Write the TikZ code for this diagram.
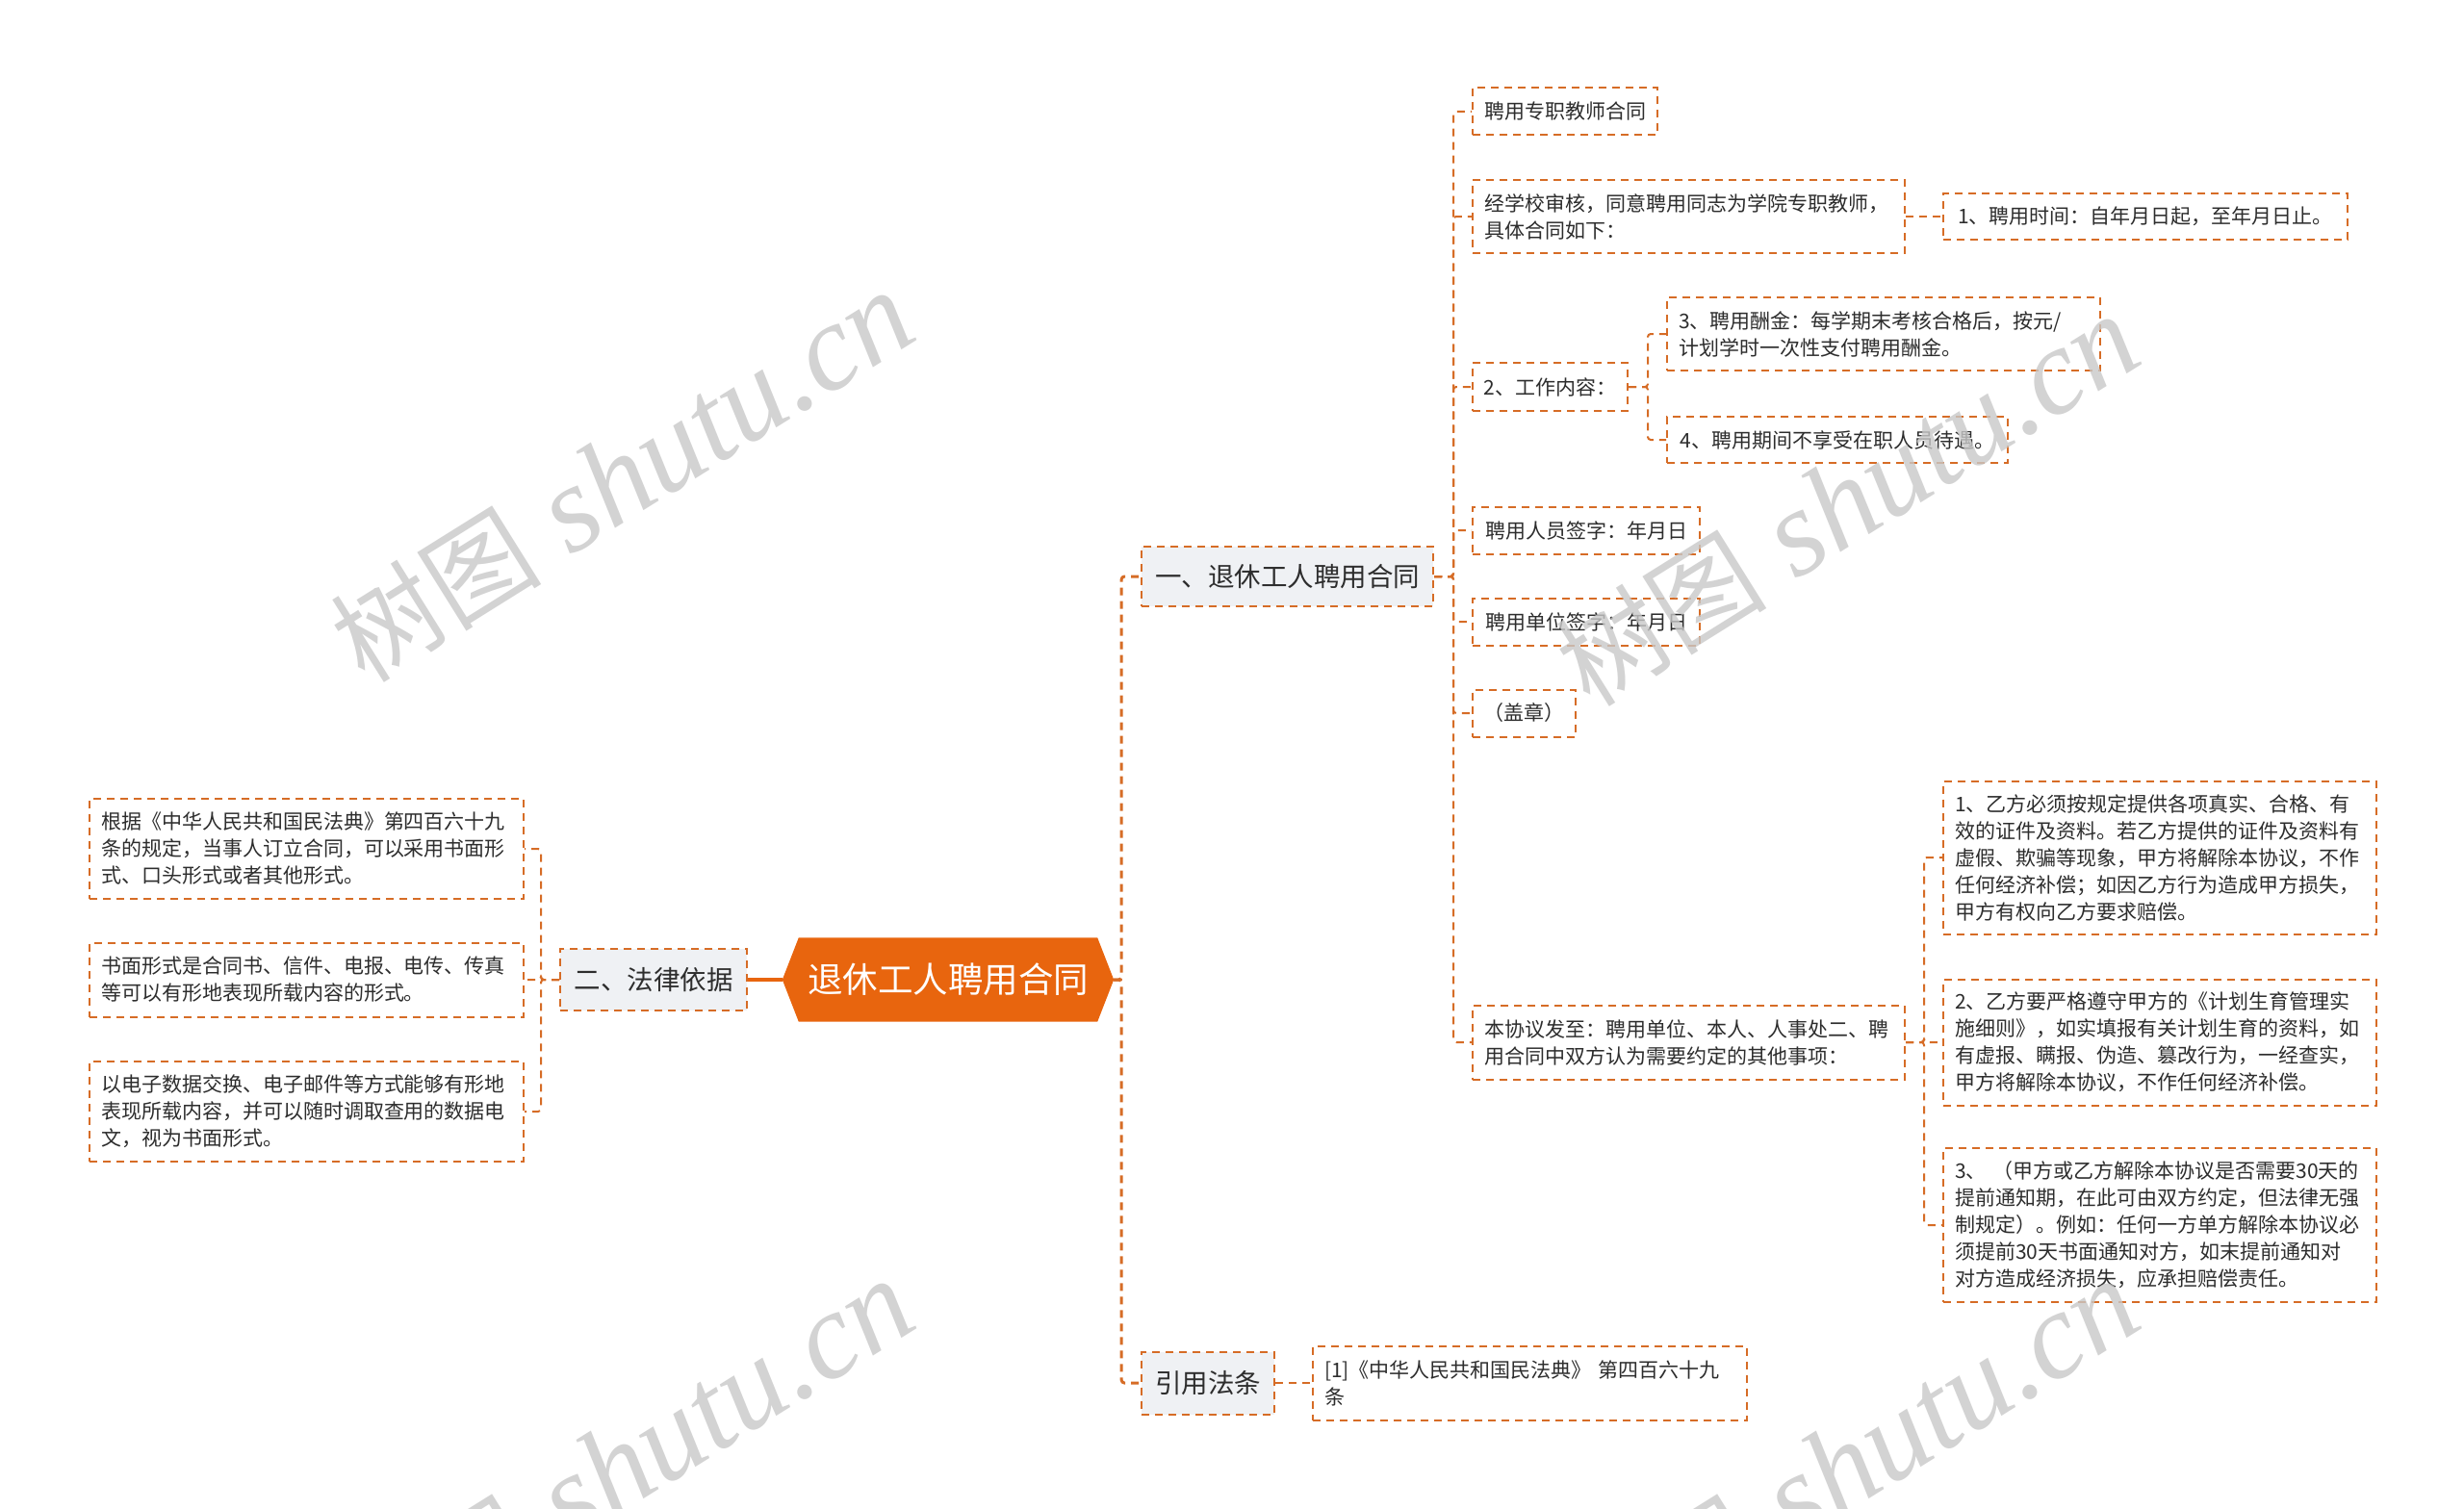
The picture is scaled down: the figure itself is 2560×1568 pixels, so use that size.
\documentclass[tikz,border=0pt]{standalone}
\usepackage{fontspec}
\setmainfont{Noto Sans CJK SC}
\newfontfamily\wmlatin{Liberation Serif}
\newfontfamily\wmcjk{Noto Sans CJK SC}
\usetikzlibrary{backgrounds}
\definecolor{bord}{RGB}{214,108,38}
\definecolor{mainor}{RGB}{232,101,14}
\definecolor{grayfill}{RGB}{239,241,244}
\definecolor{wmcol}{RGB}{200,200,200}
\definecolor{txt}{RGB}{45,45,45}
\tikzset{
  box/.style={draw=bord, line width=2pt, dash pattern=on 8pt off 6pt, anchor=west,
    align=left, inner xsep=12pt, inner ysep=2pt, text=txt,
    font=\fontsize{21pt}{28pt}\selectfont},
  sbox/.style={box, align=center, inner xsep=0pt},
  branch/.style={box, fill=grayfill, align=center, inner xsep=0pt,
    font=\fontsize{27.5pt}{32pt}\selectfont},
  conn/.style={draw=bord, line width=2pt, dash pattern=on 8pt off 6pt, rounded corners=3pt},
  mconn/.style={conn, line width=3pt},
  solidc/.style={draw=mainor, line width=4pt},
  wmark/.style={anchor=base west, rotate=32, inner sep=0pt, text=wmcol, opacity=0.8},
}
\newcommand{\wmtext}{{\wmcjk\fontsize{110pt}{110pt}\selectfont 树图}{\wmlatin\itshape\fontsize{128pt}{128pt}\selectfont\ shutu.cn}}
\begin{document}
\begin{tikzpicture}[x=1pt,y=-1pt]
\useasboundingbox (0,0) rectangle (2560,1568);
\begin{scope}[on background layer]
  \fill[white] (0,0) rectangle (2560,1568);
\end{scope}

% central node
\node[font=\fontsize{36.5pt}{40pt}\selectfont, text=white, minimum width=344pt,
      minimum height=87pt, inner sep=0pt] (c) at (985,1018) {退休工人聘用合同};
\begin{scope}[on background layer]
  \fill[mainor] (c.west) -- ([xshift=17pt]c.north west) -- ([xshift=-17pt]c.north east)
    -- (c.east) -- ([xshift=-17pt]c.south east) -- ([xshift=17pt]c.south west) -- cycle;
\end{scope}

% branches
\node[branch, minimum width=303pt, minimum height=62pt] (b1) at (1185,599) {一、退休工人聘用合同};
\node[branch, minimum width=194pt, minimum height=64pt] (b2) at (581,1018) {二、法律依据};
\node[branch, minimum width=138pt, minimum height=65pt] (b3) at (1185,1437) {引用法条};

% left leaves
\node[box, text width=427pt, minimum height=104pt] (l1) at (92,882)
  {根据《中华人民共和国民法典》第四百六十九\\条的规定，当事人订立合同，可以采用书面形\\式、口头形式或者其他形式。};
\node[box, text width=427pt, minimum height=77pt] (l2) at (92,1018)
  {书面形式是合同书、信件、电报、电传、传真\\等可以有形地表现所载内容的形式。};
\node[box, text width=427pt, minimum height=104pt] (l3) at (92,1155)
  {以电子数据交换、电子邮件等方式能够有形地\\表现所载内容，并可以随时调取查用的数据电\\文，视为书面形式。};

% branch 1 children
\node[sbox, minimum width=192pt, minimum height=49pt] (c1) at (1529,116) {聘用专职教师合同};
\node[box, text width=425pt, minimum height=76pt] (c2) at (1529,225)
  {经学校审核，同意聘用同志为学院专职教师，\\具体合同如下：};
\node[sbox, minimum width=420pt, minimum height=48pt] (c2a) at (2018,225) {1、聘用时间：自年月日起，至年月日止。};
\node[sbox, minimum width=161pt, minimum height=50pt] (c3) at (1529,402) {2、工作内容：};
\node[box, text width=426pt, minimum height=76pt] (c3a) at (1731,347)
  {3、聘用酬金：每学期末考核合格后，按元/\\计划学时一次性支付聘用酬金。};
\node[sbox, minimum width=354pt, minimum height=48pt] (c3b) at (1731,457) {4、聘用期间不享受在职人员待遇。};
\node[sbox, minimum width=236pt, minimum height=49pt] (c4) at (1529,551) {聘用人员签字：年月日};
\node[sbox, minimum width=236pt, minimum height=49pt] (c5) at (1529,646) {聘用单位签字：年月日};
\node[sbox, minimum width=107pt, minimum height=49pt] (c6) at (1529,741) {（盖章）};
\node[box, text width=425pt, minimum height=77pt] (c7) at (1529,1083)
  {本协议发至：聘用单位、本人、人事处二、聘\\用合同中双方认为需要约定的其他事项：};
\node[box, text width=426pt, minimum height=159pt] (c7a) at (2018,891)
  {1、乙方必须按规定提供各项真实、合格、有\\效的证件及资料。若乙方提供的证件及资料有\\虚假、欺骗等现象，甲方将解除本协议，不作\\任何经济补偿；如因乙方行为造成甲方损失，\\甲方有权向乙方要求赔偿。};
\node[box, text width=426pt, minimum height=131pt] (c7b) at (2018,1083)
  {2、乙方要严格遵守甲方的《计划生育管理实\\施细则》，如实填报有关计划生育的资料，如\\有虚报、瞒报、伪造、篡改行为，一经查实，\\甲方将解除本协议，不作任何经济补偿。};
\node[box, text width=426pt, minimum height=160pt] (c7c) at (2018,1273)
  {3、 （甲方或乙方解除本协议是否需要30天的\\提前通知期，在此可由双方约定，但法律无强\\制规定）。例如：任何一方单方解除本协议必\\须提前30天书面通知对方，如末提前通知对\\对方造成经济损失，应承担赔偿责任。};

% branch 3 child
\node[box, text width=427pt, minimum height=77pt] (r1) at (1363,1437)
  {[1]《中华人民共和国民法典》 第四百六十九\\条};

% connectors
\draw[solidc] (c.west) -- (b2.east);
\draw[mconn] (c.east) -- ++(8,0) |- (b1.west);
\draw[mconn] (c.east) -- ++(8,0) |- (b3.west);
\foreach \n in {l1,l2,l3} \draw[conn] (b2.west) -- ++(-19,0) |- (\n.east);
\foreach \n in {c1,c2,c3,c4,c5,c6,c7} \draw[conn] (b1.east) -- ++(20,0) |- (\n.west);
\draw[conn] (c2.east) -- (c2a.west);
\foreach \n in {c3a,c3b} \draw[conn] (c3.east) -- ++(20,0) |- (\n.west);
\foreach \n in {c7a,c7b,c7c} \draw[conn] (c7.east) -- ++(19,0) |- (\n.west);
\draw[conn] (b3.east) -- (r1.west);

% watermarks
\begin{scope}
  \clip (0,0) rectangle (2560,1568);
  \node[wmark] (w1) at (379,712) {\wmtext};
  \node[wmark] (w2) at (1652,737) {\wmtext};
  \node[wmark] (w3) at (379,1739) {\wmtext};
  \node[wmark] (w4) at (1652,1739) {\wmtext};
\end{scope}
\end{tikzpicture}
\end{document}
